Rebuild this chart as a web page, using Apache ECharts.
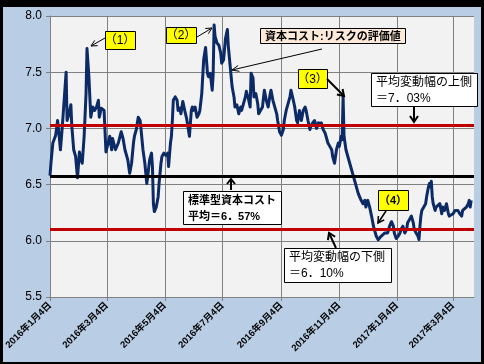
<!DOCTYPE html>
<html><head><meta charset="utf-8">
<script src="https://cdn.jsdelivr.net/npm/echarts@6/dist/echarts.min.js"></script>
<style>html,body{margin:0;padding:0;background:#000;}#c{width:484px;height:364px;}</style>
</head><body><div id="c"></div>
<script>
// ---- data ----
const firstDay = '2016/1/4';
const lastDay = '2017/3/26';
const tickDates = ['2016/1/4','2016/3/4','2016/5/4','2016/7/4','2016/9/4','2016/11/4','2017/1/4','2017/3/4'];
const yMin = 5.5, yMax = 8.0, yStep = 0.5;
const meanCost = 6.57, upperBand = 7.03, lowerBand = 6.10;
const dates = [
'2016/1/4','2016/1/5','2016/1/7','2016/1/10','2016/1/12','2016/1/13','2016/1/15','2016/1/17','2016/1/19','2016/1/21','2016/1/22','2016/1/24','2016/1/26','2016/1/27','2016/1/29','2016/1/31',
'2016/2/2','2016/2/4','2016/2/5','2016/2/7','2016/2/9','2016/2/11','2016/2/12','2016/2/14','2016/2/16','2016/2/18','2016/2/20','2016/2/22','2016/2/24','2016/2/25','2016/2/27',
'2016/3/1','2016/3/3','2016/3/5','2016/3/7','2016/3/9','2016/3/10','2016/3/13','2016/3/16','2016/3/19','2016/3/21','2016/3/23','2016/3/26','2016/3/28','2016/3/30',
'2016/4/1','2016/4/2','2016/4/4','2016/4/6','2016/4/8','2016/4/9','2016/4/11','2016/4/13','2016/4/15','2016/4/16','2016/4/18','2016/4/20','2016/4/21','2016/4/22','2016/4/23','2016/4/25','2016/4/27','2016/4/28','2016/4/30',
'2016/5/1','2016/5/3','2016/5/5','2016/5/7','2016/5/8','2016/5/10','2016/5/11','2016/5/12','2016/5/13','2016/5/15','2016/5/17','2016/5/18','2016/5/20','2016/5/21','2016/5/23','2016/5/25','2016/5/27','2016/5/28','2016/5/30',
'2016/6/1','2016/6/2','2016/6/3','2016/6/5','2016/6/7','2016/6/9','2016/6/10','2016/6/12','2016/6/14','2016/6/16','2016/6/18','2016/6/19','2016/6/21','2016/6/23','2016/6/24','2016/6/25','2016/6/26','2016/6/28','2016/6/30',
'2016/7/2','2016/7/3','2016/7/5','2016/7/6','2016/7/7','2016/7/9','2016/7/10','2016/7/12','2016/7/14','2016/7/16','2016/7/17','2016/7/19','2016/7/21','2016/7/23','2016/7/24','2016/7/26','2016/7/28','2016/7/29','2016/7/31',
'2016/8/2','2016/8/3','2016/8/5','2016/8/6','2016/8/8','2016/8/10','2016/8/11','2016/8/13','2016/8/15','2016/8/16','2016/8/17','2016/8/19','2016/8/21','2016/8/23','2016/8/24','2016/8/26','2016/8/28','2016/8/30','2016/8/31',
'2016/9/2','2016/9/4','2016/9/6','2016/9/7','2016/9/9','2016/9/11','2016/9/13','2016/9/14','2016/9/16','2016/9/18','2016/9/20','2016/9/21','2016/9/23','2016/9/25','2016/9/27','2016/9/29','2016/9/30',
'2016/10/2','2016/10/4','2016/10/5','2016/10/7','2016/10/9','2016/10/11','2016/10/13','2016/10/14','2016/10/16','2016/10/18','2016/10/20','2016/10/21','2016/10/23','2016/10/25','2016/10/27','2016/10/28','2016/10/30',
'2016/11/1','2016/11/3','2016/11/4','2016/11/6','2016/11/7','2016/11/8','2016/11/9','2016/11/10','2016/11/11','2016/11/13','2016/11/15','2016/11/17','2016/11/18','2016/11/20','2016/11/22','2016/11/24','2016/11/25','2016/11/27','2016/11/29',
'2016/12/1','2016/12/2','2016/12/4','2016/12/6','2016/12/8','2016/12/10','2016/12/12','2016/12/13','2016/12/15','2016/12/17','2016/12/18','2016/12/20','2016/12/22','2016/12/24','2016/12/25','2016/12/27','2016/12/29','2016/12/31',
'2017/1/1','2017/1/3','2017/1/5','2017/1/7','2017/1/8','2017/1/10','2017/1/12','2017/1/14','2017/1/15','2017/1/17','2017/1/19','2017/1/21','2017/1/22','2017/1/24','2017/1/26','2017/1/27','2017/1/28','2017/1/29','2017/1/30',
'2017/2/1','2017/2/3','2017/2/4','2017/2/6','2017/2/7','2017/2/8','2017/2/9','2017/2/10','2017/2/11','2017/2/13','2017/2/14','2017/2/16','2017/2/18','2017/2/20','2017/2/21','2017/2/23','2017/2/25','2017/2/27','2017/2/28',
'2017/3/2','2017/3/4','2017/3/6','2017/3/7','2017/3/9','2017/3/11','2017/3/13','2017/3/14','2017/3/16','2017/3/18','2017/3/20','2017/3/21','2017/3/22','2017/3/23'
];
const values = [
6.58,6.69,6.87,6.94,7.07,6.99,6.81,7.02,7.03,7.50,7.07,7.13,7.21,7.02,6.81,6.75,
6.56,6.79,6.75,6.69,6.93,7.31,7.71,7.46,7.10,7.19,7.16,7.19,7.25,7.10,7.18,
7.16,6.79,6.78,6.93,6.81,6.91,6.81,6.87,6.97,6.91,6.81,6.72,6.60,6.69,
6.87,6.93,6.99,7.10,7.07,6.99,6.81,6.69,6.51,6.57,6.72,6.78,6.66,6.33,6.26,6.30,6.39,6.51,6.69,
6.75,6.78,6.76,6.78,6.66,6.87,6.93,7.07,7.25,7.28,7.25,7.16,7.18,7.13,7.24,7.16,7.09,7.10,6.93,
7.16,7.19,7.16,7.19,7.10,7.13,7.16,7.31,7.61,7.72,7.49,7.46,7.49,7.34,7.48,7.92,7.82,7.76,7.74,
7.67,7.58,7.61,7.61,7.80,7.88,7.73,7.55,7.37,7.28,7.19,7.21,7.13,7.19,7.16,7.22,7.28,7.33,7.27,
7.19,7.49,7.45,7.28,7.31,7.22,7.13,7.12,7.19,7.27,7.34,7.25,7.19,7.30,7.34,7.25,7.19,7.13,7.07,
6.97,6.94,6.99,7.07,7.16,7.22,7.28,7.34,7.27,7.19,7.07,7.05,7.16,7.07,7.16,7.19,7.16,
7.07,6.99,7.02,7.05,7.07,7.00,7.05,7.03,7.05,6.99,6.96,6.93,6.87,6.84,6.81,6.75,6.69,
6.81,6.87,6.84,6.93,6.90,7.28,6.93,6.87,6.81,6.75,6.69,6.63,6.60,6.54,6.48,6.42,6.41,6.36,6.33,
6.36,6.30,6.36,6.30,6.22,6.13,6.07,6.04,6.01,6.02,6.04,6.04,6.07,6.08,6.07,6.13,6.17,6.13,
6.07,6.02,6.04,6.07,6.10,6.13,6.07,6.10,6.16,6.19,6.22,6.16,6.10,6.07,6.04,6.01,6.13,6.22,6.27,
6.27,6.33,6.39,6.48,6.51,6.48,6.53,6.39,6.33,6.27,6.30,6.29,6.33,6.24,6.30,6.27,6.33,6.24,6.22,
6.22,6.24,6.27,6.26,6.27,6.24,6.22,6.27,6.27,6.30,6.33,6.36,6.30,6.36
];

// ---- categories: every calendar day ----
function fmt(d){return d.getUTCFullYear()+'/'+(d.getUTCMonth()+1)+'/'+d.getUTCDate();}
function parse(s){const p=s.split('/').map(Number);return new Date(Date.UTC(p[0],p[1]-1,p[2]));}
const categories=[];
for(let d=parse(firstDay);d<=parse(lastDay);d=new Date(d.getTime()+86400000)) categories.push(fmt(d));
const tickSet=new Set(tickDates);
const showTick=(i,v)=>tickSet.has(v);

// ---- annotation helpers ----
const FONT="'Liberation Sans','Noto Sans CJK JP',sans-serif";
function arrow(x1,y1,x2,y2,w,hl,hw){
  const a=Math.atan2(y2-y1,x2-x1);
  const bx=x2-hl*Math.cos(a), by=y2-hl*Math.sin(a);
  const px=-Math.sin(a)*hw, py=Math.cos(a)*hw;
  return [
    {type:'line',z:50,shape:{x1:x1,y1:y1,x2:x2,y2:y2},style:{stroke:'#000',lineWidth:w}},
    {type:'polyline',z:50,shape:{points:[[bx+px,by+py],[x2,y2],[bx-px,by-py]]},style:{stroke:'#000',lineWidth:w,fill:null}}
  ];
}
function box(x,y,w,h,fill,text,font,align,lh){
  const els=[{type:'rect',z:50,shape:{x:x+0.5,y:y+0.5,width:w,height:h},style:{fill:fill,stroke:'#000',lineWidth:1}}];
  els.push({type:'text',z:51,style:{text:text,x:align==='center'?x+w/2:x+5,y:y+h/2+1,align:align,verticalAlign:'middle',font:font,fill:'#000',lineHeight:lh||14}});
  return els;
}
const g=[
  {type:'rect',z:-10,shape:{x:3,y:7,width:478,height:355},style:{fill:'#B9CDE5'}},
  ...box(105,31,30,18,'#FFFF00','（1）','12px '+FONT,'center'),
  ...arrow(105,38,91,46,1,6,3),
  ...box(166,27,30,16,'#FFFF00','（2）','12px '+FONT,'center'),
  ...arrow(197,37,212,28,1,6,3),
  ...box(260,28,145,15,'#FDE9D9','資本コスト:リスクの評価値','bold 11px '+FONT,'left'),
  ...arrow(322,49,232,70,1,7,3),
  ...box(298,69,29,19,'#FFFF00','（3）','12px '+FONT,'center'),
  ...arrow(327,79,344,96,2,6,4),
  ...box(371,73,106,33,'#FFFFFF','平均変動幅の上側\n＝7．03%','12px '+FONT,'left',16),
  ...arrow(414,106,414,122,2,6,4),
  ...box(183,191,98,33,'#FFFFFF','標準型資本コスト\n平均＝6．57%','bold 11px '+FONT,'left',16),
  ...arrow(231,190,231,179,2,5,4),
  ...box(378,190,30,20,'#FFFF00','（4）','bold 11px '+FONT,'center'),
  ...arrow(386,211,378,223,1.5,6,3.5),
  ...box(284,248,107,34,'#FFFFFF','平均変動幅の下側\n＝6．10%','12px '+FONT,'left',16),
  ...arrow(336,248,329,233,2,6,4)
];

const chart=echarts.init(document.getElementById('c'),null,{renderer:'canvas'});
chart.setOption({
  backgroundColor:'#000',
  animation:false,
  grid:{left:50,top:16,right:10,bottom:67,show:true,backgroundColor:'#F2F2F2',borderWidth:0,containLabel:false},
  xAxis:{type:'category',data:categories,boundaryGap:false,
    axisLine:{lineStyle:{color:'#808080',width:1}},
    axisTick:{show:true,interval:showTick,length:4,lineStyle:{color:'#808080'}},
    splitLine:{show:true,interval:showTick,lineStyle:{color:'#808080',width:1}},
    axisLabel:{interval:showTick,rotate:45,margin:7,color:'#000',fontSize:9.5,fontWeight:'bold',fontFamily:FONT,
      formatter:v=>{const p=v.split('/');return p[0]+'年'+p[1]+'月'+p[2]+'日';}}
  },
  yAxis:{type:'value',min:yMin,max:yMax,interval:yStep,
    axisLine:{show:true,lineStyle:{color:'#808080'}},
    axisTick:{show:true,length:4,lineStyle:{color:'#808080'}},
    splitLine:{show:true,lineStyle:{color:'#808080',width:1}},
    axisLabel:{margin:8,color:'#000',fontSize:12,fontFamily:FONT,formatter:v=>v.toFixed(1)}
  },
  series:[{
    type:'line',data:dates.map((d,i)=>[d,values[i]]),showSymbol:false,
    lineStyle:{color:'#0C2A66',width:3,join:'round'},itemStyle:{color:'#0C2A66'},
    markLine:{silent:true,symbol:'none',label:{show:false},animation:false,
      data:[
        {yAxis:meanCost,lineStyle:{color:'#000',width:3,type:'solid'}},
        {yAxis:upperBand,lineStyle:{color:'#C00000',width:3,type:'solid'}},
        {yAxis:lowerBand,lineStyle:{color:'#C00000',width:3,type:'solid'}}
      ]}
  }],
  graphic:g
});
</script></body></html>
